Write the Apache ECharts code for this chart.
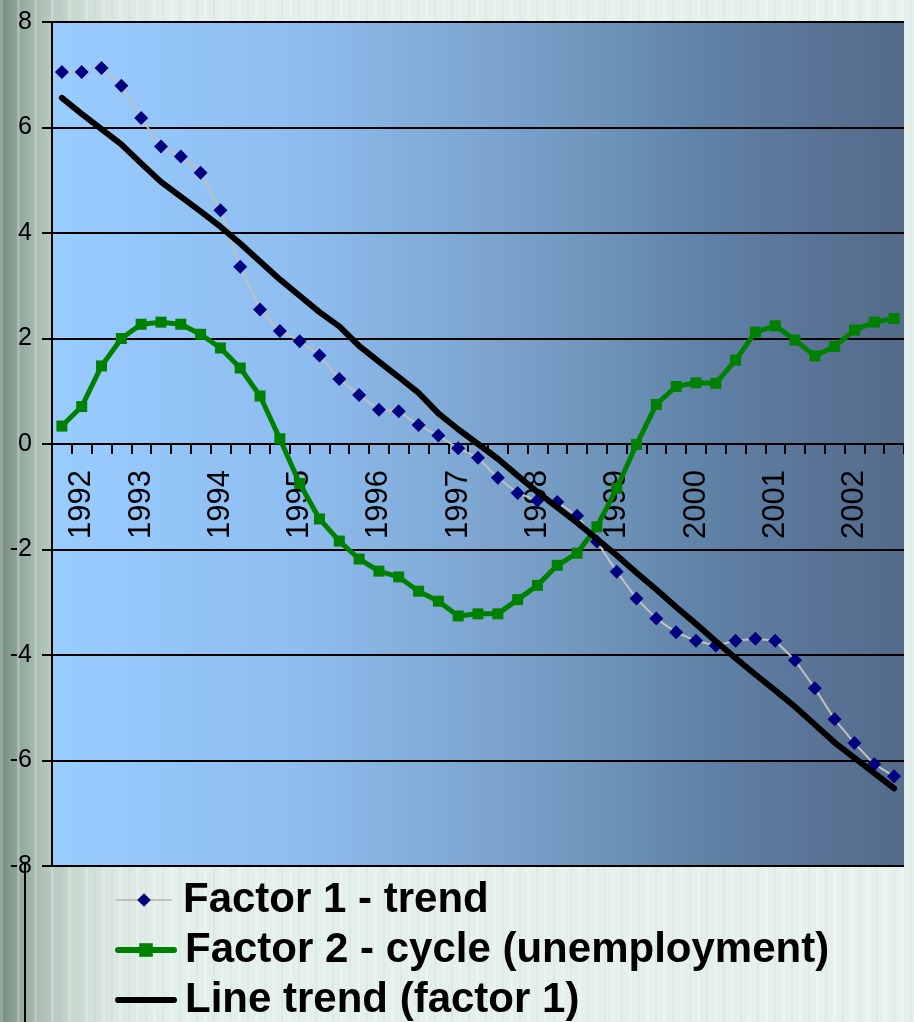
<!DOCTYPE html>
<html>
<head>
<meta charset="utf-8">
<script src="https://cdn.jsdelivr.net/npm/echarts@6/dist/echarts.min.js"></script>
<style>
  html, body { margin: 0; padding: 0; }
  body {
    width: 914px; height: 1022px; overflow: hidden;
    background:
      repeating-linear-gradient(to right, rgba(255,255,255,0.22) 0 3px, rgba(255,255,255,0) 3px 9px, rgba(150,180,165,0.10) 9px 11px, rgba(255,255,255,0) 11px 17px),
      linear-gradient(to right, #738a7f 0px, #93a99e 20px, #b2c5bb 45px, #c9dad1 75px, #dbe8e2 115px, #e3efea 170px, #e6f1ed 914px);
  }
  #chart { width: 914px; height: 1022px; }
</style>
</head>
<body>
<div id="chart"></div>
<script>
// category labels (one per quarter, year shown on some)
const yearLabels = [
  "", "1992", "", "", "1993", "", "", "", "1994", "", "", "",
  "1995", "", "", "", "1996", "", "", "", "1997", "", "", "",
  "1998", "", "", "", "1999", "", "", "", "2000", "", "", "",
  "2001", "", "", "", "2002", "", ""
]

// Factor 1 - trend
const factor1 = [
  7.05, 7.05, 7.13, 6.79, 6.18, 5.64, 5.45, 5.14, 4.43, 3.36, 2.55, 2.14,
  1.95, 1.68, 1.23, 0.93, 0.65, 0.62, 0.36, 0.16, -0.08, -0.26, -0.64, -0.93,
  -1.07, -1.10, -1.36, -1.85, -2.42, -2.93, -3.31, -3.57, -3.73, -3.82, -3.73, -3.69,
  -3.73, -4.10, -4.63, -5.22, -5.67, -6.07, -6.30
]

// Factor 2 - cycle (unemployment)
const factor2 = [
  0.34, 0.71, 1.48, 2.00, 2.27, 2.31, 2.27, 2.08, 1.82, 1.44, 0.91, 0.10,
  -0.75, -1.42, -1.84, -2.18, -2.41, -2.52, -2.79, -2.98, -3.26, -3.22, -3.22, -2.95,
  -2.68, -2.30, -2.07, -1.57, -0.84, -0.01, 0.75, 1.09, 1.16, 1.15, 1.59, 2.12,
  2.24, 1.97, 1.67, 1.85, 2.16, 2.31, 2.38
]

// Line trend (factor 1)
const lineTrend = [
  6.56, 6.26, 5.97, 5.68, 5.32, 4.97, 4.69, 4.41, 4.12, 3.80, 3.46, 3.12,
  2.81, 2.50, 2.23, 1.86, 1.56, 1.27, 0.97, 0.58, 0.28, 0.00, -0.28, -0.60,
  -0.91, -1.20, -1.49, -1.80, -2.11, -2.44, -2.76, -3.09, -3.41, -3.74, -4.06, -4.37,
  -4.67, -4.98, -5.32, -5.66, -5.95, -6.24, -6.53
]

const seriesNames = ["Factor 1 - trend", "Factor 2 - cycle (unemployment)", "Line trend (factor 1)"]

const font = "'Liberation Sans', Arial, sans-serif"

const gridTop = 22
const gridBottom = 156
const chartHeight = 1022
// the category axis sits on y = 0, half way down the -8..8 range
const zeroOffset = -(chartHeight - gridTop - gridBottom) / 2

const myChart = echarts.init(document.getElementById("chart"), null, { renderer: "canvas" })

// one legend per row so that the list can run past the bottom edge like the original
const legendRow = (name, top, extra) => ({
  orient: "vertical",
  left: 110,
  top: top,
  itemWidth: 56,
  itemHeight: 17,
  selectedMode: false,
  textStyle: {
    fontFamily: font,
    fontWeight: "bold",
    fontSize: 42,
    lineHeight: 46,
    color: "#000",
    padding: [0, 0, 0, 6],
  },
  data: [Object.assign({ name: name }, extra)],
})

const option = {
  backgroundColor: "transparent",
  animation: false,
  grid: {
    left: 52,
    right: 10,
    top: gridTop,
    bottom: gridBottom,
    show: true,
    borderWidth: 0,
    backgroundColor: {
      type: "linear",
      x: 0, y: 0, x2: 1, y2: 0,
      colorStops: [
        { offset: 0, color: "#99ccff" },
        { offset: 0.29, color: "#8ebdef" },
        { offset: 0.47, color: "#80a9d5" },
        { offset: 0.64, color: "#6f95bb" },
        { offset: 0.76, color: "#6083a8" },
        { offset: 0.88, color: "#5a7598" },
        { offset: 1, color: "#546b8a" },
      ],
    },
  },
  legend: [
    legendRow(seriesNames[0], 872, { lineStyle: { width: 2, color: "#c0c0c0" } }),
    legendRow(seriesNames[1], 922, { lineStyle: { width: 6, color: "#008000", cap: "round" } }),
    legendRow(seriesNames[2], 972, {
      itemStyle: { color: "rgba(0,0,0,0)" },
      lineStyle: { width: 6, color: "#000", cap: "round" },
    }),
  ],
  xAxis: {
    type: "category",
    data: yearLabels,
    boundaryGap: true,
    offset: zeroOffset,
    axisLine: { onZero: false, lineStyle: { color: "#000", width: 2 } },
    axisTick: { show: true, interval: 0, length: 10, lineStyle: { color: "#000", width: 2 } },
    axisLabel: {
      interval: 0,
      rotate: 90,
      margin: 26,
      fontFamily: font,
      fontSize: 31,
      color: "#000",
    },
    splitLine: { show: false },
  },
  yAxis: {
    type: "value",
    min: -8,
    max: 8,
    interval: 2,
    axisLine: { show: true, lineStyle: { color: "#000", width: 2 } },
    axisTick: { show: true, length: 10, lineStyle: { color: "#000", width: 2 } },
    axisLabel: {
      margin: 20,
      fontFamily: font,
      fontSize: 25,
      color: "#000",
    },
    splitLine: { show: true, lineStyle: { color: "#000", width: 2 } },
  },
  series: [
    {
      name: seriesNames[0],
      type: "line",
      data: factor1,
      symbol: "diamond",
      symbolSize: 14,
      lineStyle: { color: "#c0c0c0", width: 2 },
      itemStyle: { color: "#000080" },
      z: 3,
    },
    {
      name: seriesNames[1],
      type: "line",
      data: factor2,
      symbol: "rect",
      symbolSize: 11,
      lineStyle: { color: "#008000", width: 5 },
      itemStyle: { color: "#008000" },
      z: 4,
    },
    {
      name: seriesNames[2],
      type: "line",
      data: lineTrend,
      symbol: "none",
      lineStyle: { color: "#000", width: 6, cap: "round" },
      itemStyle: { color: "#000" },
      z: 5,
    },
  ],
  graphic: [
    {
      type: "line",
      shape: { x1: 25, y1: 862, x2: 25, y2: 1022 },
      style: { stroke: "#000", lineWidth: 2 },
      z: 10,
    },
    {
      type: "line",
      shape: { x1: 905, y1: 22, x2: 905, y2: 866 },
      style: { stroke: "#e4efea", lineWidth: 2 },
      z: 10,
    },
  ],
}

myChart.setOption(option)
</script>
</body>
</html>
